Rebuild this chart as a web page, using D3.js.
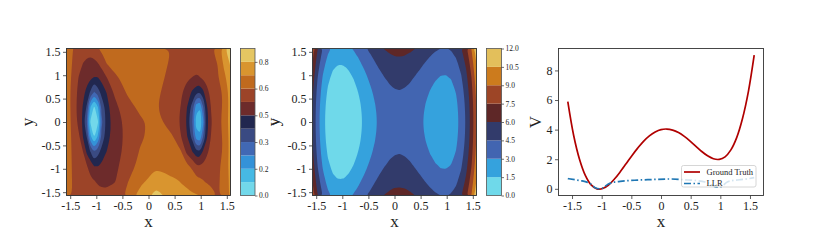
<!DOCTYPE html>
<html>
<head>
<meta charset="utf-8">
<script src="https://cdn.jsdelivr.net/npm/d3@7"></script>
<style>
  body { margin: 0; background: #fff; }
  svg { display: block; font-family: "Liberation Serif", "DejaVu Serif", serif; }
</style>
</head>
<body>
<svg id="chart" width="830" height="244"></svg>
<script>
// ---------- data ----------

// ground truth potential along x (also the x-profile of the middle panel)
const gtX = [-1.571, -1.473, -1.374, -1.276, -1.178, -1.080, -0.982, -0.884, -0.785, -0.687, -0.589,
             -0.491, -0.393, -0.295, -0.196, -0.098, 0, 0.098, 0.196, 0.295, 0.393, 0.491, 0.589,
             0.687, 0.785, 0.884, 0.982, 1.080, 1.178, 1.276, 1.374, 1.473, 1.571];
const gtV = [5.89, 3.62, 2.00, 0.91, 0.27, 0.00, 0.02, 0.26, 0.66, 1.15, 1.69,
             2.24, 2.75, 3.21, 3.58, 3.84, 4.00, 4.04, 3.97, 3.80, 3.54, 3.22, 2.87,
             2.52, 2.23, 2.03, 1.99, 2.16, 2.63, 3.46, 4.75, 6.57, 9.03];
// rise of the middle panel along y (same sample positions as gtX)
const gtBowlY = [2.47, 2.17, 1.89, 1.63, 1.39, 1.17, 0.96, 0.78, 0.62, 0.47, 0.35,
                 0.24, 0.15, 0.09, 0.04, 0.01, 0, 0.01, 0.04, 0.09, 0.15, 0.24, 0.35,
                 0.47, 0.62, 0.78, 0.96, 1.17, 1.39, 1.63, 1.89, 2.17, 2.47];
const gtLevels = [0, 1.5, 3, 4.5, 6, 7.5, 9, 10.5, 12];

// LLR estimate on a grid (rows top -> bottom)
const llrX = [-1.571, -1.45, -1.33, -1.25, -1.18, -1.11, -1.04, -0.97, -0.90, -0.80, -0.65, -0.40, -0.15,
              0.15, 0.45, 0.62, 0.74, 0.84, 0.92, 0.98, 1.04, 1.10, 1.20, 1.33, 1.45, 1.571];
const llrY = [1.571, 1.257, 0.942, 0.628, 0.314, 0, -0.314, -0.628, -0.942, -1.257, -1.571];
const llrGrid = [
  [0.69, 0.642, 0.615, 0.605, 0.60, 0.60, 0.61, 0.638, 0.655, 0.665, 0.67, 0.675, 0.675, 0.67, 0.638, 0.62, 0.613, 0.61, 0.61, 0.61, 0.613, 0.618, 0.63, 0.68, 0.77, 0.84],
  [0.69, 0.633, 0.589, 0.558, 0.54, 0.53, 0.54, 0.558, 0.594, 0.642, 0.66, 0.67, 0.67, 0.67, 0.63, 0.605, 0.592, 0.587, 0.585, 0.586, 0.59, 0.596, 0.61, 0.643, 0.74, 0.81],
  [0.69, 0.62, 0.552, 0.53, 0.511, 0.491, 0.475, 0.477, 0.501, 0.556, 0.629, 0.66, 0.67, 0.665, 0.617, 0.59, 0.571, 0.558, 0.55, 0.557, 0.57, 0.583, 0.605, 0.635, 0.70, 0.77],
  [0.69, 0.609, 0.534, 0.498, 0.453, 0.386, 0.31, 0.364, 0.423, 0.482, 0.571, 0.65, 0.665, 0.655, 0.60, 0.57, 0.521, 0.464, 0.42, 0.41, 0.45, 0.522, 0.579, 0.619, 0.65, 0.76],
  [0.69, 0.609, 0.524, 0.469, 0.386, 0.156, 0.07, 0.156, 0.342, 0.448, 0.537, 0.61, 0.66, 0.645, 0.59, 0.558, 0.478, 0.367, 0.19, 0.17, 0.30, 0.442, 0.564, 0.607, 0.656, 0.755],
  [0.69, 0.615, 0.532, 0.453, 0.318, 0.07, 0.0, 0.07, 0.30, 0.438, 0.519, 0.587, 0.628, 0.665, 0.597, 0.55, 0.461, 0.318, 0.128, 0.12, 0.20, 0.418, 0.553, 0.611, 0.673, 0.755],
  [0.69, 0.622, 0.568, 0.47, 0.396, 0.178, 0.085, 0.173, 0.344, 0.448, 0.517, 0.584, 0.629, 0.67, 0.65, 0.562, 0.482, 0.372, 0.20, 0.18, 0.308, 0.445, 0.564, 0.607, 0.656, 0.75],
  [0.69, 0.627, 0.587, 0.558, 0.456, 0.395, 0.33, 0.37, 0.424, 0.481, 0.523, 0.589, 0.648, 0.68, 0.665, 0.645, 0.53, 0.478, 0.426, 0.42, 0.482, 0.537, 0.579, 0.614, 0.65, 0.75],
  [0.69, 0.63, 0.601, 0.582, 0.565, 0.527, 0.478, 0.479, 0.493, 0.511, 0.539, 0.604, 0.665, 0.70, 0.68, 0.665, 0.655, 0.625, 0.565, 0.568, 0.575, 0.585, 0.60, 0.625, 0.67, 0.75],
  [0.69, 0.633, 0.612, 0.599, 0.586, 0.574, 0.562, 0.553, 0.545, 0.54, 0.552, 0.636, 0.70, 0.76, 0.735, 0.715, 0.70, 0.685, 0.67, 0.66, 0.645, 0.632, 0.625, 0.63, 0.665, 0.74],
  [0.69, 0.635, 0.615, 0.60, 0.592, 0.585, 0.58, 0.578, 0.578, 0.582, 0.60, 0.656, 0.75, 0.82, 0.77, 0.75, 0.74, 0.73, 0.725, 0.72, 0.71, 0.69, 0.665, 0.635, 0.665, 0.74]
];
const llrLevels = [0, 0.08, 0.16, 0.24, 0.32, 0.40, 0.48, 0.56, 0.64, 0.72, 0.80, 0.88];
const llrCbTicks = [0, 0.16, 0.32, 0.48, 0.64, 0.80];

const axisTicks = [-1.5, -1, -0.5, 0, 0.5, 1, 1.5];
const vTicks = [0, 2, 4, 6, 8];

// palettes
const llrColors = ["#72d8ea", "#46b9e4", "#3492d8", "#4168b4", "#3a4a82", "#21274f",
                   "#6d2b2b", "#9c4428", "#c06a1e", "#d9952f", "#e5c662"];
const gtColors = ["#6fd9ea", "#35a2dd", "#4265b1", "#323b6b", "#5e2727", "#9d4526", "#cc7b1d", "#e3bf5b"];

// ---------- layout ----------
const svg = d3.select("#chart");
const TOP = 48.5, BOTTOM = 195.5;
const half = Math.PI / 2;
const frameColor = "#333";
const textColor = "#222";

const p1 = { left: 66.5, right: 230.5 };
const cb1 = { left: 240.5, right: 255 };
const p2 = { left: 312.5, right: 476.5 };
const cb2 = { left: 486.5, right: 501.5 };
const p3 = { left: 558.5, right: 763.5 };

const defs = svg.append("defs");

function drawAxes(g, p, x, y, yTicks, yLabel, yLabelOffset) {
  const xa = g.append("g").attr("transform", `translate(0,${BOTTOM})`)
    .call(d3.axisBottom(x).tickValues(axisTicks).tickSize(3.5).tickSizeOuter(0).tickPadding(2.5)
      .tickFormat(d => String(d)));
  const ya = g.append("g").attr("transform", `translate(${p.left},0)`)
    .call(d3.axisLeft(y).tickValues(yTicks).tickSize(3.5).tickSizeOuter(0).tickPadding(2.5)
      .tickFormat(d => String(d)));
  [xa, ya].forEach(a => {
    a.select(".domain").remove();
    a.selectAll("line").attr("stroke", frameColor).attr("stroke-width", 0.8);
    a.selectAll("text").style("fill", textColor).style("font-size", "12px")
      .style("font-family", "'Liberation Serif', serif");
  });

  g.append("rect")
    .attr("x", p.left).attr("y", TOP)
    .attr("width", p.right - p.left).attr("height", BOTTOM - TOP)
    .attr("fill", "none").attr("stroke", frameColor).attr("stroke-width", 0.9);

  g.append("text")
    .attr("x", (p.left + p.right) / 2).attr("y", 227)
    .attr("text-anchor", "middle").style("font-size", "17px").style("fill", textColor)
    .text("x");

  g.append("text")
    .attr("transform", `translate(${p.left - yLabelOffset},${(TOP + BOTTOM) / 2}) rotate(-90)`)
    .attr("text-anchor", "middle").style("font-size", "17px").style("fill", textColor)
    .text(yLabel);
}

// filled contours from a grid with (possibly uneven) sample positions
function drawFilled(g, id, p, grid, xs, ys, levels, colors, x, y) {
  const nx = xs.length, ny = ys.length;
  const ix = d3.scaleLinear().domain(d3.range(nx)).range(xs).clamp(true);
  const iy = d3.scaleLinear().domain(d3.range(ny)).range(ys).clamp(true);

  const bands = d3.contours()
    .size([nx, ny])
    .thresholds(levels.slice(0, -1))(grid.flat());

  // small rings go through their points, long rings get a b-spline to iron out grid kinks
  const lineSmall = d3.line()
    .x(pt => x(ix(pt[0] - 0.5)))
    .y(pt => y(iy(pt[1] - 0.5)))
    .curve(d3.curveCatmullRomClosed.alpha(0.5));
  const lineLarge = d3.line()
    .x(pt => x(ix(pt[0] - 0.5)))
    .y(pt => y(iy(pt[1] - 0.5)))
    .curve(d3.curveBasisClosed);
  const ringPath = ring => {
    const pts = ring.slice(0, -1);
    return pts.length > 20 ? lineLarge(pts) : lineSmall(pts);
  };

  defs.append("clipPath").attr("id", id)
    .append("rect")
    .attr("x", p.left).attr("y", TOP)
    .attr("width", p.right - p.left).attr("height", BOTTOM - TOP);

  const cg = g.append("g").attr("clip-path", `url(#${id})`);
  cg.append("rect")
    .attr("x", p.left).attr("y", TOP)
    .attr("width", p.right - p.left).attr("height", BOTTOM - TOP)
    .attr("fill", colors[0]);

  cg.selectAll("path")
    .data(bands.slice(1))
    .join("path")
    .attr("d", b => b.coordinates.map(poly => poly.map(ringPath).join("")).join(""))
    .attr("fill", (b, i) => colors[i + 1])
    .attr("fill-rule", "evenodd");
}

function drawColorbar(g, cb, levels, colors, ticks, fmt) {
  const s = d3.scaleLinear().domain([levels[0], levels[levels.length - 1]]).range([BOTTOM, TOP]);
  g.selectAll("rect.band")
    .data(d3.pairs(levels))
    .join("rect")
    .attr("class", "band")
    .attr("x", cb.left).attr("width", cb.right - cb.left)
    .attr("y", d => s(d[1])).attr("height", d => s(d[0]) - s(d[1]))
    .attr("fill", (d, i) => colors[i]);

  g.append("rect")
    .attr("x", cb.left).attr("y", TOP)
    .attr("width", cb.right - cb.left).attr("height", BOTTOM - TOP)
    .attr("fill", "none").attr("stroke", "#555").attr("stroke-width", 0.8);

  const ax = g.append("g").attr("transform", `translate(${cb.right},0)`)
    .call(d3.axisRight(s).tickValues(ticks).tickSize(2.5).tickSizeOuter(0).tickPadding(1.5).tickFormat(fmt));
  ax.select(".domain").remove();
  ax.selectAll("line").attr("stroke", frameColor).attr("stroke-width", 0.7);
  ax.selectAll("text").style("fill", textColor).style("font-size", "7.5px")
    .style("font-family", "'Liberation Serif', serif");
}

// ---------- panel 1: LLR field ----------
const x1 = d3.scaleLinear().domain([-half, half]).range([p1.left, p1.right]);
const y1 = d3.scaleLinear().domain([-half, half]).range([BOTTOM, TOP]);
const g1 = svg.append("g");
drawFilled(g1, "clip1", p1, llrGrid, llrX, llrY, llrLevels, llrColors, x1, y1);
drawAxes(g1, p1, x1, y1, axisTicks, "y", 33.5);
drawColorbar(svg.append("g"), cb1, llrLevels, llrColors, llrCbTicks, d3.format(".1f"));
svg.append("text")
  .attr("transform", `translate(${cb1.right + 25},${(TOP + BOTTOM) / 2}) rotate(-90)`)
  .attr("text-anchor", "middle").style("font-size", "10px").style("fill", textColor)
  .text("V");

// ---------- panel 2: ground truth field ----------
const x2 = d3.scaleLinear().domain([-half, half]).range([p2.left, p2.right]);
const y2 = d3.scaleLinear().domain([-half, half]).range([BOTTOM, TOP]);
const gtGrid = gtBowlY.map(b => gtV.map(v => v + b));
const g2 = svg.append("g");
drawFilled(g2, "clip2", p2, gtGrid, gtX, gtX, gtLevels, gtColors, x2, y2);
drawAxes(g2, p2, x2, y2, axisTicks, "y", 33.5);
drawColorbar(svg.append("g"), cb2, gtLevels, gtColors, gtLevels, d3.format(".1f"));

// ---------- panel 3: slices at y = 0 ----------
const llrSlice = llrGrid[llrY.indexOf(0)];
const allV = gtV.concat(llrSlice);
const [vMin, vMax] = d3.extent(allV);
const vPad = (vMax - vMin) * 0.05;
const xPad = (half * 2) * 0.05;
const x3 = d3.scaleLinear().domain([-half - xPad, half + xPad]).range([p3.left, p3.right]);
const y3 = d3.scaleLinear().domain([vMin - vPad, vMax + vPad]).range([BOTTOM, TOP]);
const g3 = svg.append("g");

g3.append("path")
  .datum(d3.zip(gtX, gtV))
  .attr("fill", "none").attr("stroke", "#b00000").attr("stroke-width", 1.7)
  .attr("d", d3.line().x(d => x3(d[0])).y(d => y3(d[1])).curve(d3.curveCatmullRom));

g3.append("path")
  .datum(d3.zip(llrX, llrSlice))
  .attr("fill", "none").attr("stroke", "#1f77b4").attr("stroke-width", 1.7)
  .attr("stroke-dasharray", "7,2.5,1.5,2.5")
  .attr("d", d3.line().x(d => x3(d[0])).y(d => y3(d[1])).curve(d3.curveMonotoneX));

drawAxes(g3, p3, x3, y3, vTicks, "V", 17.5);

// legend
const lg = g3.append("g").attr("transform", `translate(${p3.right - 82},${BOTTOM - 30})`);
lg.append("rect")
  .attr("x", 0).attr("y", 0).attr("width", 74.5).attr("height", 21.5).attr("rx", 2)
  .attr("fill", "#fff").attr("fill-opacity", 0.8)
  .attr("stroke", "#ccc").attr("stroke-width", 0.8);
const legendItems = [
  { label: "Ground Truth", color: "#b00000", dash: null },
  { label: "LLR", color: "#1f77b4", dash: "7,2.5,1.5,2.5" }
];
legendItems.forEach((it, i) => {
  const yy = 6.5 + i * 11.5;
  lg.append("line")
    .attr("x1", 2.5).attr("x2", 18.5).attr("y1", yy).attr("y2", yy)
    .attr("stroke", it.color).attr("stroke-width", 1.7)
    .attr("stroke-dasharray", it.dash);
  lg.append("text")
    .attr("x", 25).attr("y", yy + 2.8)
    .style("font-size", "8.5px").style("fill", textColor)
    .text(it.label);
});
</script>
</body>
</html>
